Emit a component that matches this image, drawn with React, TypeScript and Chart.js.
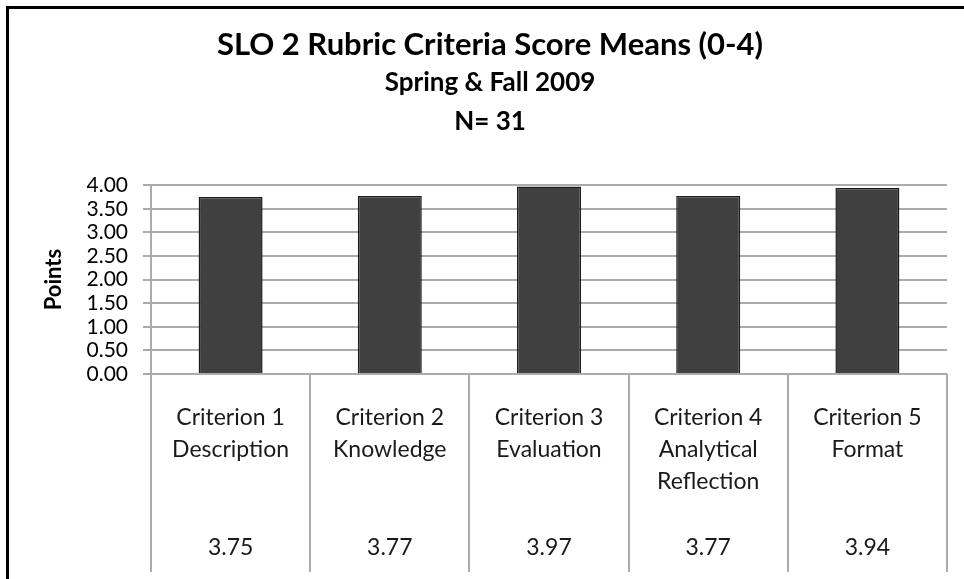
import React, { useEffect, useRef } from "react";
import { Chart, registerables } from "chart.js";

Chart.register(...registerables);

// ---- data ----
const categoryLines: string[][] = [
  ["Criterion 1", "Description"],
  ["Criterion 2", "Knowledge"],
  ["Criterion 3", "Evaluation"],
  ["Criterion 4", "Analytical", "Reflection"],
  ["Criterion 5", "Format"],
];
const meanScores: number[] = [3.75, 3.77, 3.97, 3.77, 3.94];
const yTickValues: number[] = [0, 0.5, 1, 1.5, 2, 2.5, 3, 3.5, 4];
const titleText = "SLO 2 Rubric Criteria Score Means (0-4)";
const subtitleLines: string[] = ["Spring & Fall 2009", "N= 31"];
const yAxisTitle = "Points";

const FONT = "Lato, 'Open Sans', 'Liberation Sans', sans-serif";
const GRID = "#ababab";

const framePlugin = {
  id: "frame",
  beforeDraw(chart: any) {
    const { ctx, width, height } = chart;
    ctx.save();
    ctx.fillStyle = "#ffffff";
    ctx.fillRect(0, 0, width, height);
    ctx.strokeStyle = "#000000";
    ctx.lineWidth = 3;
    ctx.beginPath();
    ctx.moveTo(7.5, height);
    ctx.lineTo(7.5, 7.5);
    ctx.lineTo(width, 7.5);
    ctx.stroke();
    ctx.restore();
  },
};

const tablePlugin = {
  id: "dataTable",
  afterDraw(chart: any) {
    const { ctx, chartArea } = chart;
    const xs = chart.scales.x;
    const n = categoryLines.length;
    const step = (chartArea.right - chartArea.left) / n;
    const top = chartArea.bottom;
    const bottom = top + 198;
    ctx.save();
    ctx.strokeStyle = GRID;
    ctx.lineWidth = 2;
    for (let i = 0; i <= n; i++) {
      const x = Math.round(chartArea.left + i * step);
      ctx.beginPath();
      ctx.moveTo(x, top);
      ctx.lineTo(x, bottom);
      ctx.stroke();
    }
    ctx.fillStyle = "#1a1a1a";
    ctx.font = `23px ${FONT}`;
    ctx.textAlign = "center";
    ctx.textBaseline = "middle";
    for (let i = 0; i < n; i++) {
      const cx = xs.getPixelForValue(i);
      categoryLines[i].forEach((line, k) => {
        ctx.fillText(line, cx, top + 44 + k * 32);
      });
      ctx.fillText(meanScores[i].toFixed(2), cx, top + 174);
    }
    ctx.restore();
  },
};

export default function App() {
  const canvasRef = useRef<HTMLCanvasElement | null>(null);

  useEffect(() => {
    document.body.style.margin = "0";
    const canvas = canvasRef.current;
    if (!canvas) return;
    const chart = new Chart(canvas, {
      type: "bar",
      data: {
        labels: categoryLines.map((l) => l.join(" ")),
        datasets: [
          {
            data: meanScores,
            backgroundColor: "#404040",
            borderColor: "#1c1c1c",
            borderWidth: 1.5,
            barPercentage: 0.402,
            categoryPercentage: 1,
          },
        ],
      },
      options: {
        responsive: false,
        animation: false,
        layout: { padding: { left: 33, right: 17, top: 0, bottom: 205 } },
        plugins: {
          legend: { display: false },
          tooltip: { enabled: false },
          title: {
            display: true,
            text: titleText,
            color: "#000000",
            font: { family: FONT, size: 31, weight: "bold", lineHeight: 1.2 },
            padding: { top: 26, bottom: 0 },
          },
          subtitle: {
            display: true,
            text: subtitleLines,
            color: "#000000",
            font: { family: FONT, size: 26, weight: "bold", lineHeight: 1.5 },
            padding: { top: 0, bottom: 44 },
          },
        },
        scales: {
          x: {
            display: false,
          },
          y: {
            min: 0,
            max: 4,
            afterBuildTicks: (scale: any) => {
              scale.ticks = yTickValues.map((v) => ({ value: v }));
            },
            afterFit: (scale: any) => {
              scale.width = 118;
            },
            ticks: {
              autoSkip: false,
              callback: (v: any) => Number(v).toFixed(2),
              color: "#000000",
              font: { family: FONT, size: 21, lineHeight: 1 },
              padding: 15,
            },
            grid: { color: GRID, lineWidth: 2, tickLength: 8 },
            border: { color: GRID, width: 2 },
            title: {
              display: true,
              text: yAxisTitle,
              color: "#000000",
              font: { family: FONT, size: 22, weight: "bold", lineHeight: 1.2 },
              padding: { top: 8, bottom: 0 },
            },
          },
        },
      },
      plugins: [framePlugin, tablePlugin],
    });
    return () => chart.destroy();
  }, []);

  return (
    <canvas
      ref={canvasRef}
      width={964}
      height={579}
      style={{ display: "block", width: 964, height: 579 }}
    />
  );
}
